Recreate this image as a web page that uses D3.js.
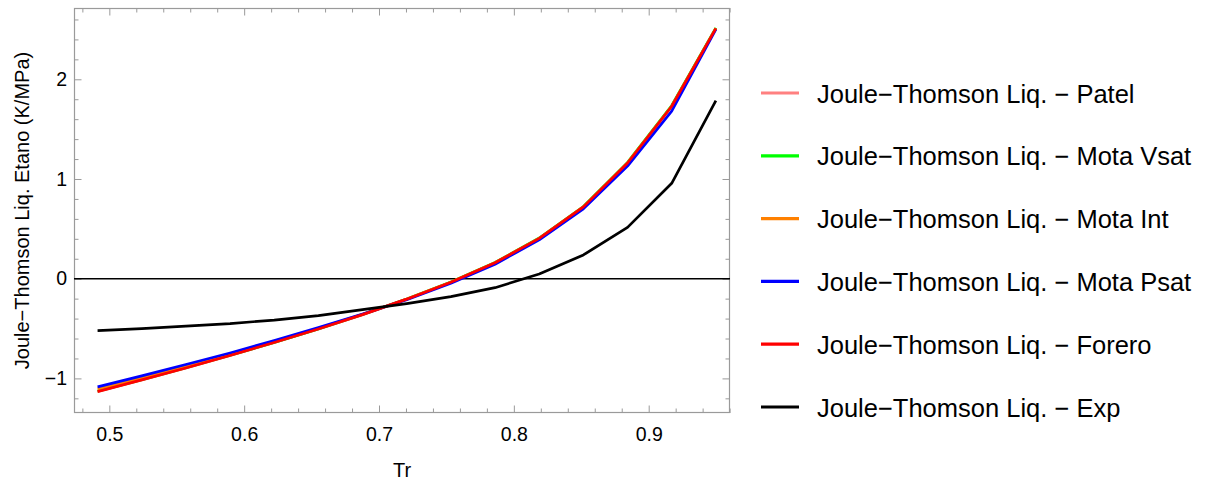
<!DOCTYPE html>
<html>
<head>
<meta charset="utf-8">
<script src="https://cdn.jsdelivr.net/npm/d3@7"></script>
<style>
    body { margin: 0; background: #ffffff; }
    svg text { font-family: "Liberation Sans", Arial, sans-serif; fill: #000000; }
</style>
</head>
<body>
<svg class="chart" width="1219" height="482"></svg>
<script>
// reduced temperature T/Tc for ethane, T = 150..290 K
var tr = [150, 160, 170, 180, 190, 200, 210, 220, 230, 240, 250, 260, 270, 280, 290]
    .map(function (t) { return t / 305.32; });

var patel = [-1.13, -1.015, -0.895, -0.77, -0.64, -0.505, -0.36, -0.205, -0.035, 0.16, 0.405, 0.72, 1.16, 1.73, 2.51];
var motaVsat = [-1.128, -1.013, -0.893, -0.768, -0.639, -0.504, -0.359, -0.204, -0.034, 0.162, 0.408, 0.724, 1.166, 1.737, 2.515];
var motaInt = [-1.105, -0.992, -0.875, -0.754, -0.628, -0.497, -0.356, -0.204, -0.035, 0.16, 0.405, 0.72, 1.162, 1.73, 2.51];
var motaPsat = [-1.085, -0.975, -0.86, -0.745, -0.62, -0.49, -0.355, -0.21, -0.045, 0.145, 0.39, 0.70, 1.13, 1.68, 2.50];
var forero = [-1.133, -1.015, -0.895, -0.77, -0.64, -0.505, -0.36, -0.205, -0.035, 0.16, 0.405, 0.72, 1.16, 1.73, 2.51];
var exp = [-0.52, -0.5, -0.475, -0.45, -0.415, -0.37, -0.31, -0.25, -0.18, -0.09, 0.047, 0.238, 0.515, 0.957, 1.785];

var seriesNames = [
    "Joule\u2212Thomson Liq. \u2212 Patel",
    "Joule\u2212Thomson Liq. \u2212 Mota Vsat",
    "Joule\u2212Thomson Liq. \u2212 Mota Int",
    "Joule\u2212Thomson Liq. \u2212 Mota Psat",
    "Joule\u2212Thomson Liq. \u2212 Forero",
    "Joule\u2212Thomson Liq. \u2212 Exp"
];
var seriesColors = ["#ff8080", "#00ff00", "#ff8000", "#0000ff", "#ff0000", "#000000"];
var seriesValues = [patel, motaVsat, motaInt, motaPsat, forero, exp];

var xMajor = [0.5, 0.6, 0.7, 0.8, 0.9];
var yMajor = [-1, 0, 1, 2];

function drawChart() {
    var frameColor = "#9a9a9a";
    var plotL = 74, plotR = 730, plotT = 8, plotB = 413;

    var svg = d3.select("svg.chart");

    var x = d3.scaleLinear()
        .domain([0.4738, 0.9603])
        .range([plotL, plotR]);
    var y = d3.scaleLinear()
        .domain([-1.347, 2.715])
        .range([plotB, plotT]);

    var xMinor = d3.range(0.48, 0.961, 0.02).filter(function (v) {
        return xMajor.every(function (m) { return Math.abs(m - v) > 1e-6; });
    });
    var yMinor = d3.range(-1.2, 2.61, 0.2).filter(function (v) {
        return yMajor.every(function (m) { return Math.abs(m - v) > 1e-6; });
    });

    function drawAxis(axis, transform, withLabels) {
        var g = svg.append("g")
            .attr("transform", transform)
            .call(axis)
            .attr("font-family", null)
            .attr("font-size", null);
        g.select(".domain").remove();
        g.selectAll(".tick line").attr("stroke", frameColor).attr("stroke-width", 1);
        if (!withLabels) {
            g.selectAll(".tick text").remove();
        } else {
            g.selectAll(".tick text").style("font-size", "19.5px");
        }
        return g;
    }

    // minor ticks on all four sides
    drawAxis(d3.axisBottom(x).tickValues(xMinor).tickSize(-4.5), "translate(0," + plotB + ")", false);
    drawAxis(d3.axisTop(x).tickValues(xMinor).tickSize(-4.5), "translate(0," + plotT + ")", false);
    drawAxis(d3.axisLeft(y).tickValues(yMinor).tickSize(-4.5), "translate(" + plotL + ",0)", false);
    drawAxis(d3.axisRight(y).tickValues(yMinor).tickSize(-4.5), "translate(" + plotR + ",0)", false);

    // major ticks
    drawAxis(d3.axisBottom(x).tickValues(xMajor).tickSize(-7.5).tickPadding(14).tickFormat(d3.format(".1f")),
        "translate(0," + plotB + ")", true);
    drawAxis(d3.axisTop(x).tickValues(xMajor).tickSize(-7.5), "translate(0," + plotT + ")", false);
    drawAxis(d3.axisLeft(y).tickValues(yMajor).tickSize(-7.5).tickPadding(7).tickFormat(d3.format("d")),
        "translate(" + plotL + ",0)", true);
    drawAxis(d3.axisRight(y).tickValues(yMajor).tickSize(-7.5), "translate(" + plotR + ",0)", false);

    svg.append("rect")
        .attr("x", plotL + 0.5)
        .attr("y", plotT + 0.5)
        .attr("width", plotR - plotL - 1)
        .attr("height", plotB - plotT - 1)
        .attr("fill", "none")
        .attr("stroke", frameColor)
        .attr("stroke-width", 1.2);

    // zero line
    svg.append("line")
        .attr("x1", plotL)
        .attr("x2", plotR)
        .attr("y1", y(0))
        .attr("y2", y(0))
        .attr("stroke", "#000000")
        .attr("stroke-width", 1.4);

    var line = d3.line()
        .x(function (d, i) { return x(tr[i]); })
        .y(function (d) { return y(d); });

    svg.append("g").selectAll("path.series")
        .data(seriesValues)
        .enter().append("path")
        .classed("series", true)
        .attr("d", line)
        .attr("fill", "none")
        .attr("stroke", function (d, i) { return seriesColors[i]; })
        .attr("stroke-width", 2.7)
        .attr("stroke-linejoin", "round");

    // axis titles
    svg.append("text")
        .attr("x", (plotL + plotR) / 2)
        .attr("y", 477)
        .attr("text-anchor", "middle")
        .style("font-size", "20px")
        .text("Tr");

    svg.append("text")
        .attr("transform", "translate(29," + ((plotT + plotB) / 2) + ") rotate(-90)")
        .attr("text-anchor", "middle")
        .style("font-size", "20px")
        .text("Joule\u2212Thomson Liq. Etano (K/MPa)");

    // legend
    var legend = svg.append("g").selectAll("g.entry")
        .data(seriesNames)
        .enter().append("g")
        .classed("entry", true)
        .attr("transform", function (d, i) { return "translate(0," + (93 + i * 62.8) + ")"; });

    legend.append("line")
        .attr("x1", 761)
        .attr("x2", 799)
        .attr("stroke", function (d, i) { return seriesColors[i]; })
        .attr("stroke-width", 3.2);

    legend.append("text")
        .attr("x", 817)
        .attr("y", 9.5)
        .style("font-size", "25.5px")
        .text(function (d) { return d; });
}

drawChart();
</script>
</body>
</html>
